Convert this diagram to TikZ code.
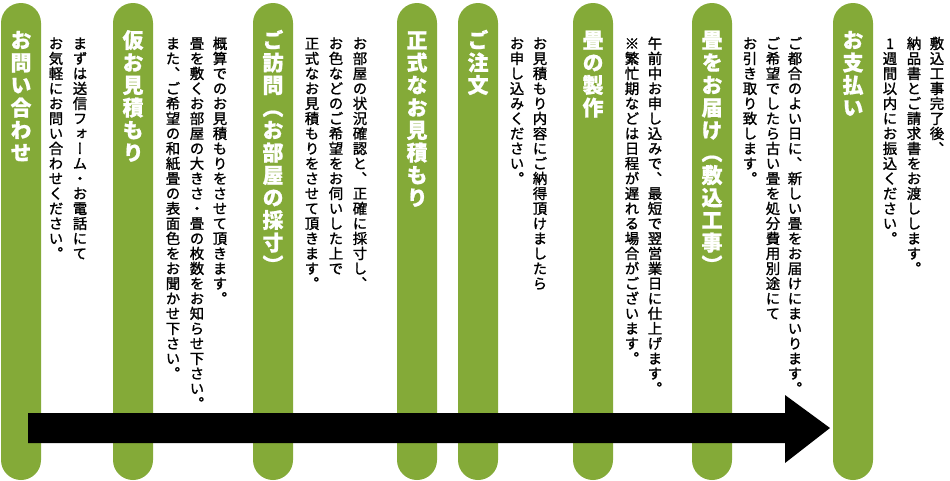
\documentclass[tikz,border=0pt]{standalone}
\usepackage{fontspec}
\newfontfamily\jp[RawFeature=+vert,BoldFeatures={FakeBold=0.8}]{Noto Sans CJK JP}
\newfontfamily\jpd[RawFeature=+vert,FakeBold=1.3]{Noto Sans CJK JP}
\definecolor{barg}{RGB}{132,170,56}
\newlength\vp
\def\vcol#1{\vbox{\offinterlineskip\vcolA#1\relax}}
\def\vcolA#1{\ifx\relax#1\else\hbox to 1em{\hss\vrule width0pt height0.88\vp depth0.12\vp\relax#1\hss}\expandafter\vcolA\fi}
\tikzset{
  greenbar/.style={fill=barg, rounded corners=20pt, minimum width=40pt, minimum height=477pt, inner sep=0pt, draw=none},
  ttl/.style={anchor=north, inner sep=0pt, text=white, font=\jp\bfseries\fontsize{21pt}{22pt}\selectfont},
  desc/.style={anchor=north, inner sep=0pt, text=black, font=\jpd\fontsize{14.4pt}{15pt}\selectfont},
}
\newcommand\Ttl[3]{\node[ttl] (#1) at (#2,28) {\setlength\vp{22.5pt}\vcol{#3}};}
\newcommand\Dsc[3]{\node[desc] (#1) at (#2,35.5) {\setlength\vp{15pt}\vcol{#3}};}
\begin{document}
\begin{tikzpicture}[x=1pt,y=-1pt]
\useasboundingbox (0,0) rectangle (950,480);
\fill[white] (0,0) rectangle (950,480);
% bars
\node[greenbar] (b1) at (21,241.5) {};
\node[greenbar] (b2) at (133,241.5) {};
\node[greenbar] (b3) at (273,241.5) {};
\node[greenbar] (b4) at (417,241.5) {};
\node[greenbar] (b5) at (478,241.5) {};
\node[greenbar] (b6) at (593,241.5) {};
\node[greenbar] (b7) at (712,241.5) {};
\node[greenbar] (b8) at (853,241.5) {};
% titles
\Ttl{t1}{21}{お問い合わせ}
\Ttl{t2}{133}{仮お見積もり}
\Ttl{t3}{273}{ご訪問（お部屋の採寸）}
\Ttl{t4}{417}{正式なお見積もり}
\Ttl{t5}{478}{ご注文}
\Ttl{t6}{593}{畳の製作}
\Ttl{t7}{712}{畳をお届け（敷込工事）}
\Ttl{t8}{853}{お支払い}
% descriptions
\Dsc{d1a}{80}{まずは送信フォーム・お電話にて}
\Dsc{d1b}{56}{お気軽にお問い合わせください。}
\Dsc{d2a}{220}{概算でのお見積もりをさせて頂きます。}
\Dsc{d2b}{197}{畳を敷くお部屋の大きさ・畳の枚数をお知らせ下さい。}
\Dsc{d2c}{173}{また、ご希望の和紙畳の表面色をお聞かせ下さい。}
\Dsc{d3a}{360}{お部屋の状況確認と、正確に採寸し、}
\Dsc{d3b}{336}{お色などのご希望をお伺いした上で}
\Dsc{d3c}{312}{正式なお見積もりをさせて頂きます。}
\Dsc{d5a}{540}{お見積もり内容にご納得頂けましたら}
\Dsc{d5b}{517}{お申し込みください。}
\Dsc{d6a}{655}{午前中お申し込みで、最短で翌営業日に仕上げます。}
\Dsc{d6b}{632}{※繁忙期などは日程が遅れる場合がございます。}
\Dsc{d7a}{795}{ご都合のよい日に、新しい畳をお届けにまいります。}
\Dsc{d7b}{773}{ご希望でしたら古い畳を処分費用別途にて}
\Dsc{d7c}{750}{お引き取り致します。}
\Dsc{d8a}{937}{敷込工事完了後、}
\Dsc{d8b}{914}{納品書とご請求書をお渡しします。}
\Dsc{d8c}{890}{1週間以内にお振込ください。}
% arrow
\coordinate (arS) at (28,428);
\coordinate (arE) at (830,428);
\fill[black] (28,413) -- (785,413) -- (785,395) -- (arE) -- (785,463) -- (785,443) -- (28,443) -- cycle;
\end{tikzpicture}
\end{document}
